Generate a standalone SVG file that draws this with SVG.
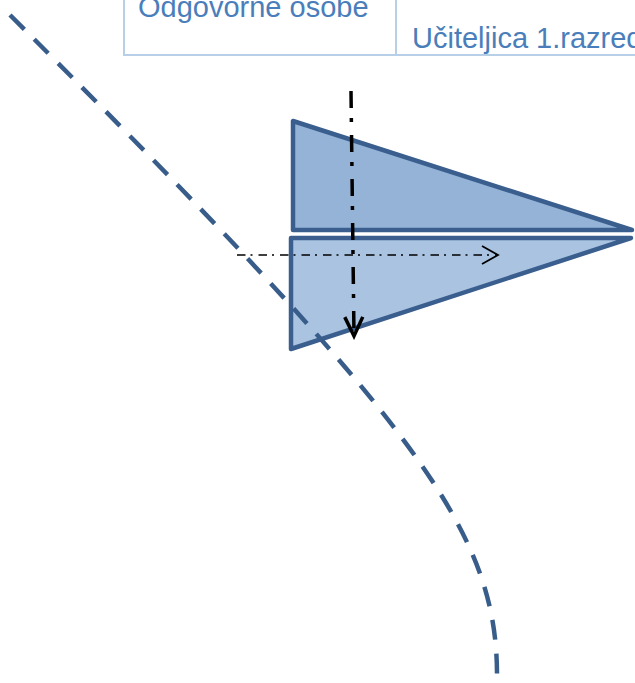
<svg xmlns="http://www.w3.org/2000/svg" width="635" height="683" viewBox="0 0 635 683">
<style>
.txt{font-family:"Liberation Sans",Arial,sans-serif;font-size:29px;fill:#4A7EBB}
.tbl{fill:none;stroke:#B8CFE8;stroke-width:2}
.tri{stroke:#3A5F8E;stroke-width:4.5;stroke-linejoin:round}
</style>
<defs>
<marker id="arrS" markerUnits="userSpaceOnUse" viewBox="-20 -12 24 24" refX="0" refY="0" markerWidth="24" markerHeight="24" orient="auto">
<path d="M-16,-9 L0,0 L-16,9" fill="none" stroke="#000" stroke-width="1.8"/>
</marker>
<marker id="arrL" markerUnits="userSpaceOnUse" viewBox="-24 -14 28 28" refX="0" refY="0" markerWidth="28" markerHeight="28" orient="auto">
<path d="M-19,-9 L0,0 L-19,9" fill="none" stroke="#000" stroke-width="3.5" stroke-linejoin="miter"/>
</marker>
</defs>
<rect width="635" height="683" fill="#fff"/>
<g id="table">
<rect class="tbl" x="124" y="-60" width="560" height="115"/>
<line class="tbl" x1="396" y1="-60" x2="396" y2="55"/>
<text class="txt" x="138" y="17">Odgovorne osobe</text>
<text class="txt" x="412" y="48">Učiteljica 1.razred</text>
</g>
<g id="triangle-upper">
<polygon class="tri" points="293,121 293,230 632,230" fill="#95B3D7"/>
</g>
<g id="triangle-lower">
<polygon class="tri" points="291,238 631,238 291,349" fill="#A9C3E1"/>
</g>
<g id="connectors">
<line x1="237" y1="255" x2="498" y2="255" stroke="#000" stroke-width="1.6" stroke-dasharray="8.5 5 2 6" marker-end="url(#arrS)"/>
<path d="M10,15 C415,420 497,530 497,675" fill="none" stroke="#385D8A" stroke-width="4.5" stroke-dasharray="20 14"/>
<line x1="351" y1="91" x2="354" y2="336" stroke="#000" stroke-width="3.5" stroke-dasharray="17 10 4 13" marker-end="url(#arrL)"/>
</g>
</svg>
